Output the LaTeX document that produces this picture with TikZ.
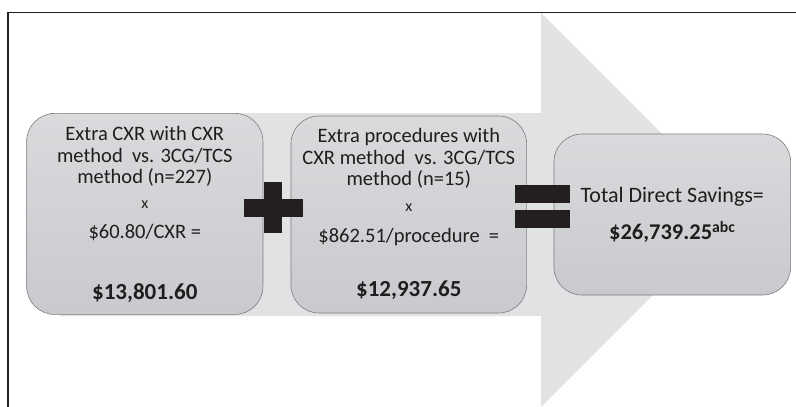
\documentclass[tikz,border=0pt]{standalone}
\usepackage{fontspec}
\setmainfont{Carlito}
\definecolor{arrowgray}{RGB}{225,226,228}
\definecolor{boxtop}{RGB}{217,218,220}
\definecolor{boxbot}{RGB}{201,202,205}
\definecolor{boxline}{RGB}{125,125,128}
\definecolor{ink}{RGB}{35,31,32}
\definecolor{txt}{RGB}{30,30,30}
\begin{document}
\begin{tikzpicture}[x=1pt,y=-1pt,
  box/.style={draw=boxline, line width=0.6pt, rounded corners=28pt,
    top color=boxtop, bottom color=boxbot, inner sep=0pt},
  bar/.style={fill=ink, draw=none, inner sep=0pt},
  body/.style={text=txt, align=center, font=\fontsize{20.5}{21.7}\selectfont, inner sep=0pt},
  small/.style={text=txt, font=\fontsize{16}{18}\selectfont, inner sep=0pt},
  big/.style={text=txt, font=\fontsize{23}{26}\selectfont\bfseries, inner sep=0pt}]
\useasboundingbox (0,0) rectangle (796,407);
\fill[white] (0,0) rectangle (796,407);
% big arrow
\fill[arrowgray] (60,113) -- (541,113) -- (541,13) -- (738,210) -- (541,407)
  -- (541,316) -- (60,316) -- cycle;
% frame
\coordinate (fa) at (8,407);
\coordinate (fb) at (8,12.5);
\coordinate (fc) at (796,12.5);
\draw[line width=1.2pt, ink] (fa) -- (fb) -- (fc);
% boxes
\node[box, minimum width=236.3pt, minimum height=201pt] (b1) at (144.8,213.9) {};
\node[box, minimum width=235.7pt, minimum height=197pt] (b2) at (408.8,214.5) {};
\node[box, minimum width=236.7pt, minimum height=161pt] (b3) at (672.3,214.5) {};
% plus
\node[bar, minimum width=18pt, minimum height=51.6pt] (pv) at (273.3,207.5) {};
\node[bar, minimum width=58.7pt, minimum height=17.7pt] (ph) at (273.3,207.9) {};
% equals
\node[bar, minimum width=55pt, minimum height=18pt] (e1) at (542.5,194) {};
\node[bar, minimum width=55pt, minimum height=18pt] (e2) at (542.5,219) {};
% box 1 text
\node[body] (t1a) at (144.8,156.5) {Extra CXR with CXR\\method\ \ vs. 3CG/TCS\\method (n=227)};
\node[small] (t1x) at (144.8,205) {x};
\node[body] (t1b) at (144.8,233) {\$60.80/CXR =};
\node[big] (t1c) at (144.8,293) {\$13,801.60};
% box 2 text
\node[body] (t2a) at (408.8,158.5) {Extra procedures with\\CXR method\ \ vs. 3CG/TCS\\method (n=15)};
\node[small] (t2x) at (408.8,208) {x};
\node[body] (t2b) at (408.8,237) {\$862.51/procedure\ \ =};
\node[big] (t2c) at (408.8,290) {\$12,937.65};
% box 3 text
\node[text=txt, font=\fontsize{22}{26}\selectfont, inner sep=0pt] (t3a) at (672.3,197) {Total Direct Savings=};
\node[text=txt, font=\fontsize{22.5}{26}\selectfont\bfseries, inner sep=0pt] (t3b) at (672.3,232) {\$26,739.25\textsuperscript{abc}};
\end{tikzpicture}
\end{document}
